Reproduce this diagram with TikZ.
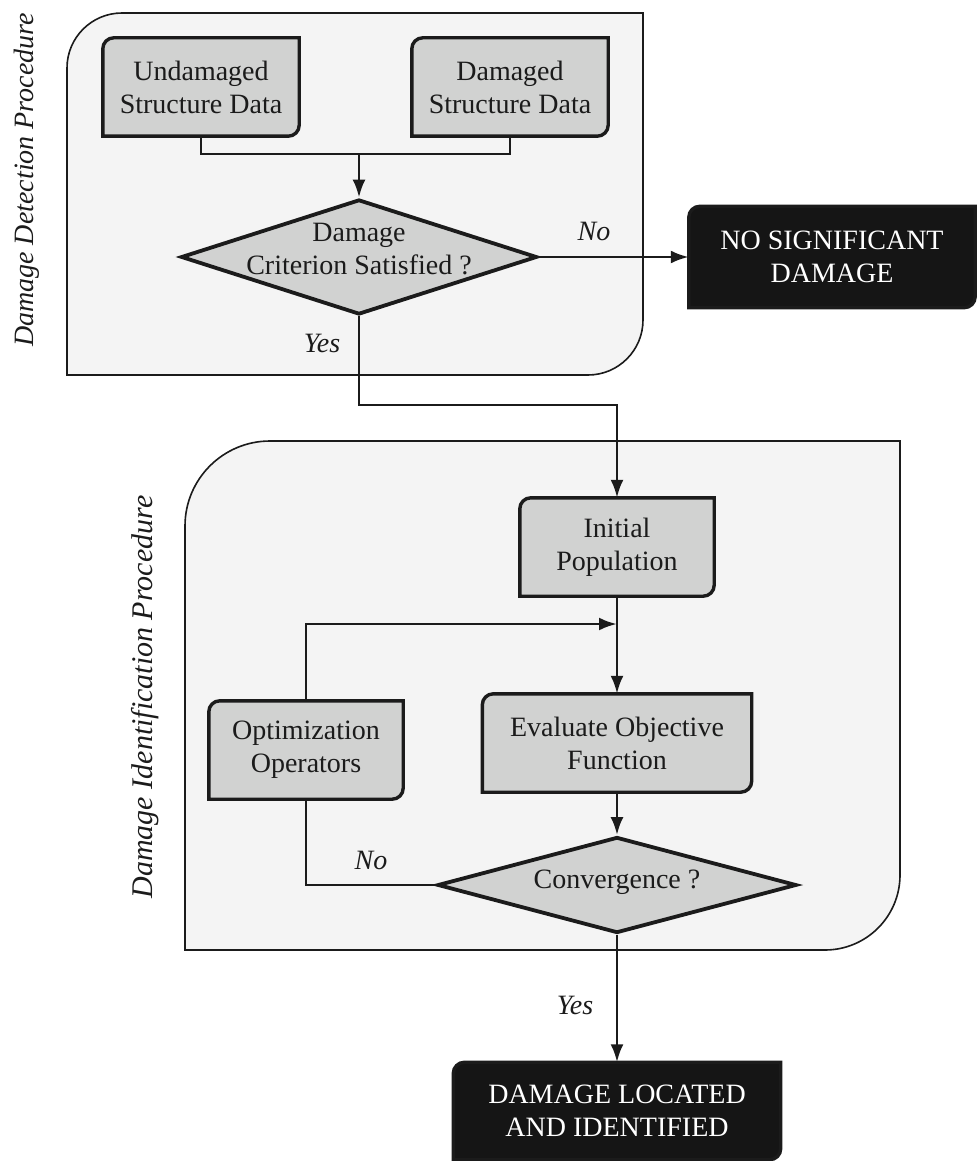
\documentclass[tikz,border=0pt]{standalone}
\usepackage{fontspec}
\setmainfont{Liberation Serif}
\usetikzlibrary{arrows.meta,shapes.geometric,backgrounds}
\definecolor{panelfill}{HTML}{F4F4F4}
\definecolor{boxgray}{HTML}{D1D2D1}
\definecolor{inkdark}{HTML}{1B1B1B}
\definecolor{boxblack}{HTML}{151515}

\begin{document}
\begin{tikzpicture}[x=1pt,y=-1pt]
\tikzset{procbox/.style={minimum width=196pt,minimum height=98pt,inner sep=0pt,align=center,font=\fontsize{28}{33}\selectfont,text=inkdark}}
\tikzset{endbox/.style={procbox,text=white}}
\tikzset{decision/.style={diamond,draw=inkdark,fill=boxgray,line width=3.8pt,inner sep=0pt}}
\tikzset{answer/.style={font=\fontsize{28}{33}\selectfont\itshape,text=inkdark}}
\tikzset{sidelbl/.style={answer,rotate=90}}
\tikzset{flow/.style={draw=inkdark,line width=2.9pt}}
\tikzset{flowarr/.style={flow,-{Latex[length=18pt,width=13pt]}}}
\tikzset{panel/.style={draw=inkdark,line width=1.6pt,fill=panelfill}}
\useasboundingbox (0,0) rectangle (977,1161);

% the two procedure panels
\begin{scope}[on background layer]
\draw[panel] (67,375) -- (67,68) arc[start angle=180,end angle=90,radius=55pt] -- (643,13) -- (643,320) arc[start angle=0,end angle=-90,radius=55pt] -- cycle;
\draw[panel] (185,950) -- (185,526) arc[start angle=180,end angle=90,radius=85pt] -- (900,441) -- (900,875) arc[start angle=0,end angle=-90,radius=75pt] -- cycle;
\end{scope}

\node[sidelbl] (detlbl) at (27,180) {Damage Detection Procedure};
\node[sidelbl,font=\fontsize{30}{33}\selectfont\itshape] (idlbl) at (145,697) {Damage Identification Procedure};

% detection
\node[procbox] (undam) at (201,87) {Undamaged\\Structure Data};
\node[procbox] (dam) at (510,87) {Damaged\\Structure Data};
\coordinate (merge) at (359,154);
\node[decision,minimum width=356pt,minimum height=115pt] (crit) at (359,257) {};
\node[procbox,text=inkdark] (critlbl) at ([yshift=8pt]crit.center) {Damage\\Criterion Satisfied ?};
\node[endbox,minimum width=286pt,minimum height=101pt] (nodmg) at (832,257) {NO SIGNIFICANT\\DAMAGE};

% identification
\coordinate (yesbend) at (617,405);
\node[procbox,minimum width=194pt] (init) at (617,547) {Initial\\Population};
\coordinate (loopin) at (617,624);
\node[procbox,minimum width=194pt] (optop) at (306,750) {Optimization\\Operators};
\node[procbox,minimum width=269pt] (evalf) at (617,743) {Evaluate Objective\\Function};
\node[decision,minimum width=359pt,minimum height=96pt] (conv) at (617,885) {};
\node[procbox] (convlbl) at ([yshift=3pt]conv.center) {Convergence ?};
\node[endbox,minimum width=327pt,minimum height=97pt] (found) at (617,1111) {DAMAGE LOCATED\\AND IDENTIFIED};

% box outlines, rounded at top left and bottom right
\begin{scope}[on background layer]
\foreach \n/\c in {undam/boxgray,dam/boxgray,init/boxgray,optop/boxgray,evalf/boxgray,nodmg/boxblack,found/boxblack}
  \draw[draw=inkdark,line width=3.4pt,fill=\c] (\n.south west) -- ([yshift=-11pt]\n.north west) arc[start angle=180,end angle=90,radius=11pt] -- (\n.north east) -- ([yshift=11pt]\n.south east) arc[start angle=0,end angle=-90,radius=11pt] -- cycle;
\end{scope}

\draw[flow] (undam.south) |- (merge) -| (dam.south);
\draw[flowarr] (merge) -- (crit.north);
\draw[flowarr] (crit.east) -- (nodmg.west);
\node[answer] (nolbl) at (594,231) {No};
\draw[flowarr] (crit.south) |- (yesbend) -- (init.north);
\node[answer] (yeslbl) at (322,343) {Yes};
\draw[flowarr] (init.south) -- (evalf.north);
\draw[flowarr] (optop.north) |- (loopin);
\draw[flowarr] (evalf.south) -- (conv.north);
\draw[flow] (conv.west) -| (optop.south);
\node[answer] (nolbl2) at (371,860) {No};
\draw[flowarr] (conv.south) -- (found.north);
\node[answer] (yeslbl2) at (575,1005) {Yes};
\end{tikzpicture}
\end{document}
